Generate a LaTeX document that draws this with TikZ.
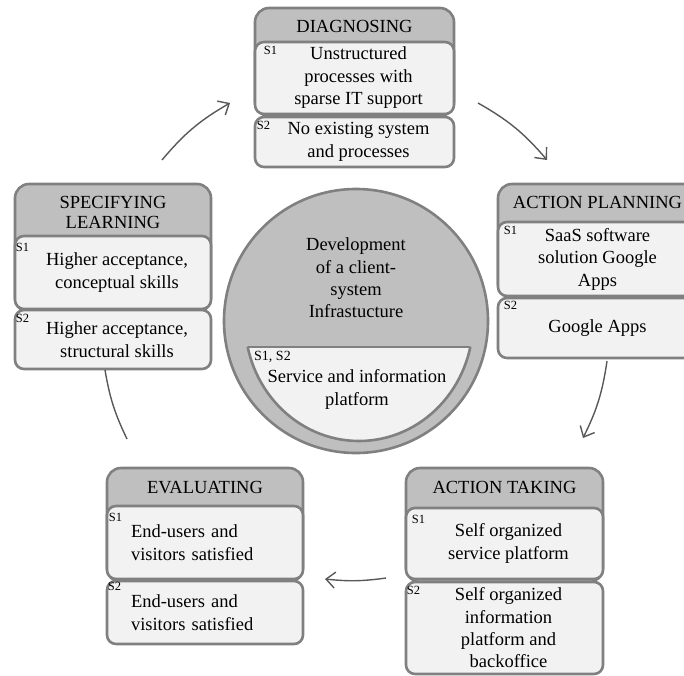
\documentclass[tikz,border=0pt]{standalone}
\usepackage{fontspec}
\setmainfont{Liberation Serif}
\usetikzlibrary{positioning,arrows.meta}

\definecolor{frame}{HTML}{808080}
\definecolor{headgray}{HTML}{BFBFBF}
\definecolor{partgray}{HTML}{F2F2F2}
\definecolor{arrowgray}{HTML}{595959}

\tikzset{
  stage/.style={draw=frame, line width=2.6pt, fill=headgray, rounded corners=14pt, inner sep=0pt},
  part/.style={draw=frame, line width=2.6pt, fill=partgray, rounded corners=9pt, inner sep=0pt,
    align=center, font=\fontsize{18.5}{22.5}\selectfont},
  headtxt/.style={inner sep=0pt, align=center, font=\fontsize{18.5}{20.5}\selectfont},
  tag/.style={inner sep=0pt, font=\fontsize{12.5}{13}\selectfont},
  hub/.style={circle, draw=frame, line width=2.6pt, fill=headgray, minimum size=264pt, inner sep=0pt},
  cyc/.style={draw=arrowgray, line width=1.4pt, bend left=#1},
  cyc/.default=10
}

\begin{document}
\begin{tikzpicture}[x=1pt,y=-1pt]
\useasboundingbox (0,0) rectangle (684,675);

% centre
\node[hub] (hub) at (356,321) {};
\begin{scope}
  \clip (359,321) ellipse [x radius=114, y radius=120];
  \draw[draw=frame, line width=2.6pt, fill=partgray] (230,347) rectangle (490,470);
\end{scope}
\begin{scope}
  \clip (230,347) rectangle (490,470);
  \draw[draw=frame, line width=2.6pt] (359,321) ellipse [x radius=114, y radius=120];
\end{scope}
\node[headtxt, font=\fontsize{18.5}{22.3}\selectfont] (hubt) at (356,278) {Development\\of a client-\\system\\Infrastucture};
\node[tag, anchor=west, font=\fontsize{14}{15}\selectfont] (segs) at (254,357) {S1, S2};
\node[headtxt, font=\fontsize{18.5}{23}\selectfont] (segt) at (357,389) {Service and information\\platform};

% diagnosing
\node[stage, minimum width=199pt, minimum height=108pt] (diag) at (354.5,62) {};
\node[headtxt] (diagh) at ([yshift=-20pt]diag.north) {DIAGNOSING};
\node[part, minimum width=199pt, minimum height=72pt] (diag1) at (354.5,78) {\hspace*{8pt}Unstructured\\\hspace*{8pt}processes with\\\hspace*{8pt}sparse IT support};
\node[tag, below right=5pt and 10pt of diag1.north west] (diag1s) {S1};
\node[part, minimum width=199pt, minimum height=50pt] (diag2) at (354.5,142) {\hspace*{8pt}No existing system\\\hspace*{8pt}and processes};
\node[tag, below right=5pt and 3pt of diag2.north west] (diag2s) {S2};

% action planning
\node[stage, minimum width=199pt, minimum height=114pt] (plan) at (597.5,241) {};
\node[headtxt] (planh) at ([yshift=-20pt]plan.north) {ACTION PLANNING};
\node[part, minimum width=199pt, minimum height=74pt] (plan1) at (597.5,259) {SaaS software\\solution Google\\Apps};
\node[tag, below right=5pt and 7pt of plan1.north west] (plan1s) {S1};
\node[part, minimum width=199pt, minimum height=60pt] (plan2) at (597.5,328) {Google Apps};
\node[tag, below right=4pt and 7pt of plan2.north west] (plan2s) {S2};

% action taking
\node[stage, minimum width=197pt, minimum height=114pt] (act) at (504.5,525) {};
\node[headtxt] (acth) at ([yshift=-21pt]act.north) {ACTION TAKING};
\node[part, minimum width=197pt, minimum height=71pt] (act1) at (504.5,543.5) {\hspace*{8pt}Self organized\\\hspace*{8pt}service platform};
\node[tag, below right=8pt and 7pt of act1.north west] (act1s) {S1};
\node[part, minimum width=197pt, minimum height=92pt, font=\fontsize{18.5}{22.3}\selectfont] (act2) at (504.5,628) {\hspace*{8pt}Self organized\\\hspace*{8pt}information\\\hspace*{8pt}platform and\\\hspace*{8pt}backoffice};
\node[tag, below right=5pt and 2pt of act2.north west] (act2s) {S2};

% evaluating
\node[stage, minimum width=196pt, minimum height=114pt] (eval) at (205,525) {};
\node[headtxt] (evalh) at ([yshift=-21pt]eval.north) {EVALUATING};
\node[part, minimum width=196pt, minimum height=73pt, text width=148pt, align=left] (eval1) at (205,542.5) {End-users and\\visitors satisfied};
\node[tag, below right=8pt and 3pt of eval1.north west] (eval1s) {S1};
\node[part, minimum width=196pt, minimum height=63pt, text width=148pt, align=left] (eval2) at (205,612.5) {End-users and\\visitors satisfied};
\node[tag, below right=2pt and 2pt of eval2.north west] (eval2s) {S2};

% specifying learning
\node[stage, minimum width=196pt, minimum height=128pt] (learn) at (113,248) {};
\node[headtxt] (learnh) at ([yshift=-30pt]learn.north) {SPECIFYING\\LEARNING};
\node[part, minimum width=196pt, minimum height=73pt] (learn1) at (113,272.5) {\hspace*{8pt}Higher acceptance,\\\hspace*{8pt}conceptual skills};
\node[tag, below right=8pt and 2pt of learn1.north west] (learn1s) {S1};
\node[part, minimum width=196pt, minimum height=59pt] (learn2) at (113,339.5) {\hspace*{8pt}Higher acceptance,\\\hspace*{8pt}structural skills};
\node[tag, below right=5pt and 2pt of learn2.north west] (learn2s) {S2};

% cycle arrows
\coordinate (learnout) at (162,160);
\coordinate (diagin) at (230,103);
\coordinate (diagout) at (478,103);
\coordinate (planin) at (547,160);
\coordinate (planout) at (607,361);
\coordinate (actin) at (583,438);
\coordinate (actout) at (386,578);
\coordinate (evalin) at (325,579);
\coordinate (evalout) at (127,439);
\coordinate (learnin) at (105,370);
\draw[cyc, -{Straight Barb[length=9pt,width=16pt]}] (learnout) to (diagin);
\draw[cyc, -{Straight Barb[length=9pt,width=16pt]}] (diagout) to (planin);
\draw[cyc=9, -{Straight Barb[length=9pt,width=16pt]}] (planout) to (actin);
\draw[cyc=7, -{Straight Barb[length=9pt,width=16pt]}] (actout) to (evalin);
\draw[cyc=8] (evalout) to (learnin);
\end{tikzpicture}
\end{document}
